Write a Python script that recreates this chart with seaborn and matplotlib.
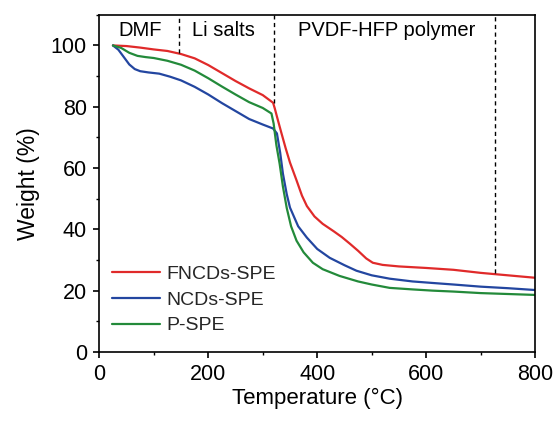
import numpy as np
import pandas as pd
import matplotlib
matplotlib.use("Agg")
import matplotlib.pyplot as plt
import seaborn as sns
from matplotlib.ticker import MultipleLocator

# Data
red_T = [25, 50, 75, 100, 125, 150, 175, 200, 225, 250, 275, 300, 319, 322, 328, 334, 342, 350, 362, 372, 381, 395, 410, 430, 445, 460, 475, 490, 502, 520, 550, 600, 650, 700, 750, 800]
red_W = [100, 99.8, 99.3, 98.7, 98.2, 97.2, 95.8, 93.6, 91.0, 88.4, 86.0, 83.8, 81.3, 79.5, 75.5, 71.6, 66.5, 61.8, 56.0, 51.0, 47.6, 44.2, 41.8, 39.4, 37.5, 35.3, 33.0, 30.5, 29.1, 28.4, 27.9, 27.4, 26.8, 25.8, 25.0, 24.2]

blue_T = [25, 35, 45, 55, 65, 75, 90, 110, 130, 150, 175, 200, 225, 250, 275, 300, 319, 326, 332, 337, 344, 350, 365, 381, 400, 423, 450, 472, 500, 533, 575, 612, 650, 700, 750, 800]
blue_W = [100, 98.6, 96.2, 93.8, 92.3, 91.6, 91.2, 90.8, 89.8, 88.6, 86.5, 84.0, 81.2, 78.6, 76.0, 74.2, 72.9, 71.3, 65.0, 58.2, 51.5, 47.1, 41.0, 37.3, 33.6, 30.7, 28.3, 26.5, 25.0, 23.9, 23.0, 22.5, 22.0, 21.3, 20.8, 20.2]

green_T = [25, 40, 55, 70, 85, 100, 125, 150, 175, 200, 225, 250, 275, 300, 316, 320, 325, 331, 337, 344, 352, 362, 375, 392, 410, 441, 475, 500, 533, 575, 612, 650, 700, 750, 800]
green_W = [100, 99.2, 97.6, 96.6, 96.2, 95.9, 95.0, 93.7, 91.8, 89.3, 86.6, 84.0, 81.5, 79.6, 77.8, 74.5, 67.5, 61.4, 54.0, 47.0, 41.0, 36.3, 32.5, 29.1, 27.0, 24.8, 23.0, 22.0, 20.9, 20.4, 20.0, 19.7, 19.2, 18.9, 18.6]

series_names = ["FNCDs-SPE", "NCDs-SPE", "P-SPE"]
colors = ["#e02a2a", "#2346a0", "#238a3a"]

region_bounds = [146, 320, 727]
region_line_bottom = [97.4, 81.3, 25.7]
region_labels = ["DMF", "Li salts", "PVDF-HFP polymer"]
region_label_x = [75, 228, 528]

df = pd.concat([
    pd.DataFrame({"Temperature": red_T, "Weight": red_W, "Sample": series_names[0]}),
    pd.DataFrame({"Temperature": blue_T, "Weight": blue_W, "Sample": series_names[1]}),
    pd.DataFrame({"Temperature": green_T, "Weight": green_W, "Sample": series_names[2]}),
], ignore_index=True)

sns.set_theme(style="ticks")
plt.rcParams["font.family"] = ["Liberation Sans", "DejaVu Sans"]

fig = plt.figure(figsize=(5.58, 4.23), dpi=100)
ax = fig.add_axes([0.178, 0.168, 0.781, 0.797])

sns.lineplot(data=df, x="Temperature", y="Weight", hue="Sample",
             palette=dict(zip(series_names, colors)), estimator=None,
             sort=False, linewidth=1.6, ax=ax)

ax.vlines(region_bounds, region_line_bottom, 110, colors="black",
          linestyles=(0, (3, 2.5)), linewidth=1.0)
for lx, lt in zip(region_label_x, region_labels):
    ax.text(lx, 105.0, lt, ha="center", va="center", fontsize=14.5, color="black")

ax.set_xlim(0, 800)
ax.set_ylim(0, 110)
ax.set_xticks([0, 200, 400, 600, 800])
ax.set_yticks([0, 20, 40, 60, 80, 100])
ax.xaxis.set_minor_locator(MultipleLocator(100))
ax.yaxis.set_minor_locator(MultipleLocator(10))
ax.tick_params(which="major", direction="out", length=4.5, width=1.2, labelsize=15.5, color="black", labelcolor="black", pad=4.5)
ax.tick_params(which="minor", direction="out", length=2.5, width=1.0, color="black")
ax.tick_params(top=False, right=False, which="both")
for s in ax.spines.values():
    s.set_linewidth(1.2)
    s.set_color("black")

ax.set_xlabel("Temperature (°C)", fontsize=16, color="black", labelpad=2)
ax.set_ylabel("Weight (%)", fontsize=16.5, color="black", labelpad=8)

leg = ax.legend(loc="lower left", bbox_to_anchor=(-0.012, 0.0), frameon=False,
                fontsize=14, handlelength=2.5, handletextpad=0.3,
                labelspacing=0.42, borderaxespad=0.5)
for line in leg.get_lines():
    line.set_linewidth(1.6)

fig.savefig("out.png", dpi=100)
